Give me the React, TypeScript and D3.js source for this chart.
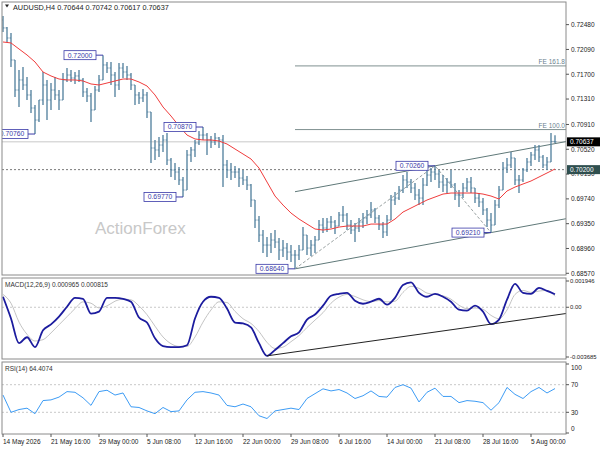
import * as React from 'react'
import * as d3 from 'd3'

const width = 600
const height = 450
const left = 2
const right = 566
const mainPane = { top: 2, bottom: 275 }
const macdPane = { top: 278, bottom: 359 }
const rsiPane = { top: 362, bottom: 434 }
const font = '"Liberation Sans", Arial, sans-serif'
const barColor = '#5b87a3'
const labelBlue = '#3a3aa8'

// AUDUSD H4 bars (open = previous close)
const firstOpen = 0.72553
const highs = [
  0.72616, 0.72443, 0.72349, 0.71924, 0.71767, 0.71814, 0.71657, 0.71452, 0.71216, 0.71295,
  0.71735, 0.7161, 0.71562, 0.71657, 0.71452, 0.7172, 0.71798, 0.71767, 0.71735, 0.71767,
  0.71641, 0.71484, 0.71405, 0.71515, 0.71688, 0.72, 0.71893, 0.71893, 0.71735, 0.71877,
  0.71877, 0.7183, 0.7172, 0.71531, 0.71421, 0.71468, 0.71421, 0.71106, 0.70666, 0.70713,
  0.70744, 0.70776, 0.70383, 0.70304, 0.70241, 0.70084, 0.70509, 0.70556, 0.70666, 0.70807,
  0.7087, 0.70776, 0.70729, 0.70776, 0.70713, 0.70744, 0.70351, 0.70304, 0.70257, 0.70225,
  0.70194, 0.701, 0.69974, 0.69722, 0.6947, 0.6925, 0.6914, 0.69203, 0.6925, 0.69124,
  0.69093, 0.69046, 0.69014, 0.68936, 0.69014, 0.69297, 0.69171, 0.69093, 0.69156, 0.69407,
  0.69439, 0.69439, 0.6947, 0.69407, 0.69533, 0.69628, 0.69517, 0.69407, 0.6936, 0.69439,
  0.69517, 0.69565, 0.69691, 0.69596, 0.69486, 0.69376, 0.69486, 0.69801, 0.69848, 0.69942,
  0.70115, 0.70162, 0.70052, 0.69989, 0.69895, 0.70068, 0.70194, 0.70225, 0.7026, 0.70194,
  0.70115, 0.70068, 0.70194, 0.69989, 0.69879, 0.69989, 0.70068, 0.70084, 0.69911, 0.69832,
  0.69753, 0.69596, 0.69517, 0.69722, 0.69942, 0.7032, 0.70383, 0.70477, 0.70383, 0.70115,
  0.70225, 0.70383, 0.70477, 0.70587, 0.70587, 0.7043, 0.70398, 0.70776, 0.70742,
]
const lows = [
  0.72365, 0.72207, 0.71814, 0.71342, 0.71185, 0.71452, 0.71295, 0.71091, 0.7076, 0.70949,
  0.71216, 0.7098, 0.71138, 0.71295, 0.71138, 0.71295, 0.71578, 0.71578, 0.71547, 0.71578,
  0.71342, 0.71264, 0.70949, 0.71138, 0.71421, 0.7161, 0.7172, 0.71531, 0.71342, 0.71452,
  0.71641, 0.7161, 0.71452, 0.71216, 0.71232, 0.71264, 0.71012, 0.70304, 0.70351, 0.70398,
  0.70477, 0.70273, 0.70084, 0.70037, 0.69958, 0.6977, 0.69879, 0.7032, 0.70398, 0.70587,
  0.70666, 0.7043, 0.7054, 0.70587, 0.7054, 0.69926, 0.70068, 0.70037, 0.70068, 0.69926,
  0.69958, 0.69879, 0.69612, 0.69282, 0.69061, 0.68888, 0.68825, 0.68888, 0.68967, 0.68778,
  0.68825, 0.68778, 0.68747, 0.6864, 0.68778, 0.68936, 0.68857, 0.68841, 0.68888, 0.69093,
  0.69203, 0.69219, 0.69282, 0.69187, 0.69313, 0.69376, 0.6925, 0.69187, 0.69061, 0.69219,
  0.69282, 0.69344, 0.69439, 0.6936, 0.6925, 0.69124, 0.69156, 0.69407, 0.69643, 0.69722,
  0.69832, 0.69911, 0.69832, 0.69722, 0.69643, 0.69643, 0.69942, 0.70005, 0.70037, 0.69911,
  0.69848, 0.69832, 0.69911, 0.69722, 0.69612, 0.69753, 0.69848, 0.69832, 0.69675, 0.69612,
  0.69486, 0.69297, 0.6921, 0.69329, 0.69596, 0.69879, 0.70147, 0.70225, 0.69958, 0.69832,
  0.70005, 0.70162, 0.70257, 0.70351, 0.7032, 0.70225, 0.70194, 0.7032, 0.70617,
]
const closes = [
  0.72428, 0.7227, 0.71924, 0.71452, 0.7161, 0.71531, 0.71374, 0.71169, 0.7098, 0.71295,
  0.71531, 0.71295, 0.71452, 0.71374, 0.71295, 0.7161, 0.71688, 0.71641, 0.71673, 0.7161,
  0.71421, 0.71358, 0.71138, 0.71452, 0.7161, 0.71846, 0.71798, 0.71688, 0.71531, 0.71798,
  0.71735, 0.71688, 0.71531, 0.71374, 0.71327, 0.71374, 0.71106, 0.7054, 0.70509, 0.70587,
  0.70666, 0.70351, 0.70194, 0.70162, 0.70037, 0.69879, 0.7043, 0.70509, 0.70619, 0.70744,
  0.70744, 0.70666, 0.70634, 0.70697, 0.70666, 0.70273, 0.70194, 0.70162, 0.70162, 0.70068,
  0.70037, 0.69958, 0.69722, 0.69407, 0.69171, 0.69014, 0.69014, 0.69093, 0.69061, 0.68936,
  0.68967, 0.68904, 0.68857, 0.68857, 0.68936, 0.69171, 0.68967, 0.69014, 0.69093, 0.69329,
  0.69282, 0.69376, 0.69376, 0.69313, 0.69486, 0.69486, 0.69329, 0.6925, 0.69282, 0.69376,
  0.69439, 0.69486, 0.69565, 0.69439, 0.69329, 0.69219, 0.69407, 0.69722, 0.69753, 0.69879,
  0.70037, 0.70005, 0.69911, 0.69801, 0.69753, 0.69958, 0.70115, 0.70162, 0.70131, 0.70005,
  0.69958, 0.70005, 0.69958, 0.69801, 0.69801, 0.69911, 0.70005, 0.69911, 0.69753, 0.69691,
  0.69565, 0.69407, 0.69329, 0.69643, 0.69879, 0.70225, 0.70273, 0.70383, 0.70037, 0.70037,
  0.70194, 0.7032, 0.7043, 0.70509, 0.70398, 0.70273, 0.7032, 0.70644, 0.70637,
]

// indicators, one value every 2 bars
const ma = [
  0.72207, 0.72192, 0.72097, 0.72003, 0.71893, 0.71735, 0.71673, 0.71625, 0.7161, 0.7161,
  0.71594, 0.71547, 0.71531, 0.71562, 0.71594, 0.71625, 0.71625, 0.71578, 0.71515, 0.71374,
  0.71185, 0.71043, 0.70886, 0.70744, 0.70682, 0.70666, 0.70666, 0.7065, 0.70603, 0.70524,
  0.70446, 0.70367, 0.70225, 0.70005, 0.69785, 0.69643, 0.69517, 0.69423, 0.69344, 0.69266,
  0.6925, 0.69266, 0.69297, 0.69313, 0.69313, 0.69313, 0.69344, 0.69344, 0.69344, 0.69423,
  0.69533, 0.69596, 0.69659, 0.69722, 0.69769, 0.69816, 0.69832, 0.69832, 0.69832, 0.69832,
  0.69816, 0.69785, 0.69738, 0.69864, 0.69926, 0.69974, 0.70021, 0.70084, 0.70147, 0.7021,
]
const macd = [
  0.00078, -0.00083, -0.00266, -0.00222, -0.00295, -0.00171, -0.00127, -0.00069, 0.00004, 0.0007,
  0.00063, -0.00047, -0.00032, 0.0007, 0.0007, 0.00063, 0.00041, -0.00076, -0.00113, -0.0023,
  -0.00288, -0.00295, -0.00295, -0.00281, -0.00083, 0.00041, 0.00078, 0.0007, -0.0001, -0.00113,
  -0.0012, -0.00149, -0.00266, -0.0036, -0.00317, -0.00266, -0.00215, -0.00186, -0.00091, -0.00054,
  0.00012, 0.00085, 0.00099, 0.00107, 0.00048, 0.00026, 0.00041, 0.00063, 0.00019, 0.0007,
  0.00165, 0.00185, 0.00107, 0.00078, 0.00099, 0.00078, 0.00041, -0.00018, -0.00025, 0.00012,
  -0.00032, -0.00125, -0.00091, 0.00056, 0.00173, 0.00107, 0.00099, 0.00143, 0.00121, 0.000965,
]
const signal = [
  0.00095, 0.0003, -0.0011, -0.002, -0.0025, -0.0024, -0.0019, -0.0013, -0.0007, -0.0001,
  0.0004, 0.0003, -0.00005, 0.0001, 0.00045, 0.0006, 0.00055, 0.0001, -0.00055, -0.0014,
  -0.0022, -0.0027, -0.0029, -0.0029, -0.0022, -0.0011, -0.0002, 0.0004, 0.00035, -0.0003,
  -0.00085, -0.0012, -0.0018, -0.0026, -0.00305, -0.00295, -0.00255, -0.0021, -0.0015, -0.00095,
  -0.0004, 0.0003, 0.00075, 0.00095, 0.0008, 0.00055, 0.00042, 0.0005, 0.0004, 0.00045,
  0.0011, 0.00155, 0.0014, 0.00105, 0.00095, 0.00085, 0.0006, 0.00015, -0.0001, -0.00005,
  -0.00015, -0.0006, -0.00085, -0.0002, 0.00095, 0.00125, 0.0011, 0.0012, 0.00125, 0.000815,
]
const rsi = [
  55, 30, 34, 36, 28, 47, 48, 52, 60, 59,
  51, 40, 60, 62, 55, 58, 38, 37, 32, 28,
  37, 31, 32, 48, 59, 60, 58, 55, 40, 38,
  42, 38, 25, 21, 32, 34, 36, 34, 50, 57,
  64, 61, 63, 58, 50, 54, 61, 53, 52, 66,
  70, 65, 45, 59, 65, 53, 53, 44, 47, 46,
  44, 33, 44, 66, 56, 50, 60, 66, 58, 64.4,
]

const priceTicks = [0.7248, 0.7209, 0.717, 0.7131, 0.7091, 0.7052, 0.7013, 0.6974, 0.6935, 0.6896, 0.6857]
const macdTicks = [0.001946, 0, -0.003685]
const rsiTicks = [100, 70, 30, 0]
const timeLabels = [
  '14 May 2026', '21 May 16:00', '29 May 00:00', '5 Jun 08:00', '12 Jun 16:00', '22 Jun 00:00',
  '29 Jun 08:00', '6 Jul 16:00', '14 Jul 00:00', '21 Jul 08:00', '28 Jul 16:00', '5 Aug 00:00',
]
const swings = [
  { bar: 8, kind: 'low' },
  { bar: 25, kind: 'high' },
  { bar: 45, kind: 'low' },
  { bar: 50, kind: 'high' },
  { bar: 73, kind: 'low' },
  { bar: 108, kind: 'high' },
  { bar: 122, kind: 'low' },
]
const feLevels = [
  { label: 'FE 161.8', value: 0.71831 },
  { label: 'FE 100.0', value: 0.7083 },
]
const supportLevel = 0.702
const macdTrend = [33, 61]

const fmt = d3.format('.5f')

const App = () => {
  const n = closes.length
  const x = d3.scaleLinear().domain([0, n - 1]).range([3, 555])
  const y = d3.scaleLinear().domain([0.68543, 0.72836]).range([mainPane.bottom, mainPane.top])
  const yMacd = d3.scaleLinear().domain([-0.003685, 0.001946]).range([357, 281])
  const yRsi = d3.scaleLinear().domain([0, 100]).range([433, 364])

  const opens = closes.map((c, i) => (i === 0 ? firstOpen : closes[i - 1]))
  const last = closes[n - 1]

  const maLine = d3.line<number>().x((_, k) => x(k * 2)).y(d => y(d))
  const macdLine = d3.line<number>().x((_, k) => x(k * 2)).y(d => yMacd(d)).curve(d3.curveMonotoneX)
  const rsiLine = d3.line<number>().x((_, k) => x(k * 2)).y(d => yRsi(d))

  // channel through the two swing lows, parallel line through the swing high
  const a = 73
  const b = 122
  const h = 108
  const slope = (lows[b] - lows[a]) / (b - a)
  const endBar = x.invert(right)
  const lowerStart = lows[a]
  const lowerEnd = lows[a] + slope * (endBar - a)
  const upperStart = highs[h] + slope * (a - h)
  const upperEnd = highs[h] + slope * (endBar - h)

  const zig = [
    [a, lows[a]],
    [h, highs[h]],
    [b, lows[b]],
  ]

  const [m1, m2] = macdTrend
  const mSlope = (macd[m2] - macd[m1]) / (m2 - m1)
  const mEnd = endBar / 2
  const macdTrendEnd = macd[m1] + mSlope * (mEnd - m1)

  const axisText = { fontFamily: font, fontSize: 6.5, fill: '#222' }

  return (
    <svg width={width} height={height} style={{ position: 'absolute', left: 0, top: 0, background: '#fff' }}>
      <defs>
        <clipPath id="mainClip">
          <rect x={left} y={mainPane.top} width={right - left} height={mainPane.bottom - mainPane.top} />
        </clipPath>
        <clipPath id="macdClip">
          <rect x={left} y={macdPane.top} width={right - left} height={macdPane.bottom - macdPane.top} />
        </clipPath>
      </defs>

      {/* main pane */}
      <g clipPath="url(#mainClip)">
        <text x={95} y={234} fontFamily={font} fontSize={17} fill="#c8c8c8">ActionForex</text>
        <line x1={left} x2={right} y1={y(last)} y2={y(last)} stroke="#c8c8c8" />
        <line x1={left} x2={right} y1={y(supportLevel)} y2={y(supportLevel)} stroke="#7a7a7a" strokeDasharray="2,2" />
        {feLevels.map(f => (
          <g key={f.label}>
            <line x1={x(a)} x2={right} y1={y(f.value)} y2={y(f.value)} stroke="#7f9090" />
            <text x={right - 1} y={y(f.value) - 2} textAnchor="end" fontFamily={font} fontSize={6.5} fill="#6a7f8f">
              {f.label}
            </text>
          </g>
        ))}
        <line x1={x(a)} x2={right} y1={y(lowerStart)} y2={y(lowerEnd)} stroke="#5f7878" />
        <line x1={x(a)} x2={right} y1={y(upperStart)} y2={y(upperEnd)} stroke="#5f7878" />
        <path
          d={d3.line<number[]>().x(d => x(d[0])).y(d => y(d[1]))(zig) || ''}
          fill="none"
          stroke="#9aa2a2"
          strokeDasharray="3,2"
        />
        {closes.map((c, i) => (
          <g key={i} stroke={barColor} strokeWidth={1.4}>
            <line x1={x(i)} x2={x(i)} y1={y(highs[i])} y2={y(lows[i])} />
            <line x1={x(i) - 1.5} x2={x(i)} y1={y(opens[i])} y2={y(opens[i])} strokeWidth={1} />
            <line x1={x(i)} x2={x(i) + 1.5} y1={y(c)} y2={y(c)} strokeWidth={1} />
          </g>
        ))}
        <path d={maLine(ma) || ''} fill="none" stroke="#f03c3c" strokeWidth={1} />
        {swings.map(s => {
          const p = s.kind === 'low' ? lows[s.bar] : highs[s.bar]
          const bx = x(s.bar)
          const cy = y(p)
          const boxRight = bx - 7
          return (
            <g key={s.bar}>
              <line x1={boxRight} x2={bx} y1={cy} y2={cy} stroke={labelBlue} />
              <rect x={boxRight - 32} y={cy - 4.5} width={32} height={9} fill="#fff" stroke={labelBlue} strokeWidth={0.8} />
              <text x={boxRight - 16} y={cy + 2.4} textAnchor="middle" fontFamily={font} fontSize={6.8} fill={labelBlue}>
                {fmt(p)}
              </text>
            </g>
          )
        })}
      </g>
      <rect x={left} y={mainPane.top} width={right - left} height={mainPane.bottom - mainPane.top} fill="none" stroke="#8a8a8a" />
      <path d="M5,4.5 L9,4.5 L7,7.5 Z" fill="#222" />
      <text x={13} y={9.5} fontFamily={font} fontSize={7.3} fill="#222">
        AUDUSD,H4  0.70644 0.70742 0.70617 0.70637
      </text>

      {/* price axis */}
      {priceTicks.map(t => (
        <g key={t}>
          <line x1={right} x2={right + 3} y1={y(t)} y2={y(t)} stroke="#555" />
          <text x={right + 5} y={y(t) + 2.3} {...axisText}>{fmt(t)}</text>
        </g>
      ))}
      <rect x={right + 1} y={y(supportLevel) - 4.5} width={33} height={9} fill="#2f4f4f" />
      <text x={right + 4} y={y(supportLevel) + 2.4} {...axisText} fill="#fff">{fmt(supportLevel)}</text>
      <rect x={right + 1} y={y(last) - 4.5} width={33} height={9} fill="#000" />
      <text x={right + 4} y={y(last) + 2.4} {...axisText} fill="#fff">{fmt(last)}</text>

      {/* MACD pane */}
      <g clipPath="url(#macdClip)">
        <line x1={left} x2={right} y1={yMacd(0)} y2={yMacd(0)} stroke="#c8c8c8" strokeDasharray="2,2" />
        <path d={macdLine(signal) || ''} fill="none" stroke="#c4c4c4" strokeWidth={1} />
        <path d={macdLine(macd) || ''} fill="none" stroke="#1c1c9e" strokeWidth={1.8} />
        <line x1={x(m1 * 2)} x2={right} y1={yMacd(macd[m1])} y2={yMacd(macdTrendEnd)} stroke="#222" strokeWidth={1} />
      </g>
      <rect x={left} y={macdPane.top} width={right - left} height={macdPane.bottom - macdPane.top} fill="none" stroke="#8a8a8a" />
      <text x={5} y={287} fontFamily={font} fontSize={6.5} fill="#333">MACD(12,26,9) 0.000965 0.000815</text>
      {macdTicks.map(v => (
        <g key={v}>
          <line x1={right} x2={right + 3} y1={yMacd(v)} y2={yMacd(v)} stroke="#555" />
          <text x={right + 4} y={yMacd(v) + 2.2} {...axisText} fontSize={5.9}>
            {v === 0 ? '0.00' : d3.format('.6f')(v).replace('−', '-')}
          </text>
        </g>
      ))}

      {/* RSI pane */}
      {[70, 30].map(v => (
        <line key={v} x1={left} x2={right} y1={yRsi(v)} y2={yRsi(v)} stroke="#c8c8c8" strokeDasharray="2,2" />
      ))}
      <path d={rsiLine(rsi) || ''} fill="none" stroke="#3d9cf5" strokeWidth={1} />
      <rect x={left} y={rsiPane.top} width={right - left} height={rsiPane.bottom - rsiPane.top} fill="none" stroke="#8a8a8a" />
      <text x={5} y={371} fontFamily={font} fontSize={6.5} fill="#333">RSI(14) 64.4074</text>
      {rsiTicks.map(v => (
        <g key={v}>
          <line x1={right} x2={right + 3} y1={yRsi(v)} y2={yRsi(v)} stroke="#555" />
          <text x={right + 5} y={Math.min(Math.max(yRsi(v), 368), 429) + 2.3} {...axisText}>{v}</text>
        </g>
      ))}

      {/* time axis */}
      {timeLabels.map((t, k) => (
        <g key={t}>
          <line x1={x(k * 12)} x2={x(k * 12)} y1={rsiPane.bottom} y2={rsiPane.bottom + 3} stroke="#555" />
          <text x={x(k * 12)} y={444} {...axisText}>{t}</text>
        </g>
      ))}
    </svg>
  )
}

export default App
